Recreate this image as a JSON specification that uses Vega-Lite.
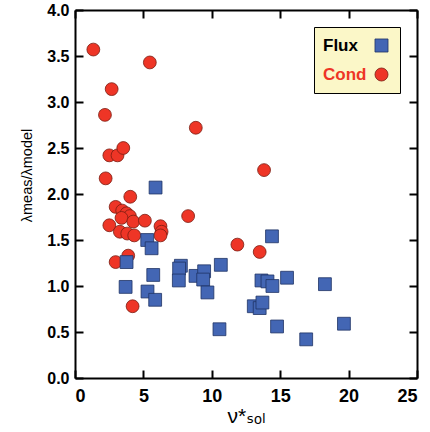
{
  "$schema": "https://vega.github.io/schema/vega-lite/v6.json",
  "width": 342,
  "height": 368,
  "autosize": "none",
  "padding": {"left": 75, "top": 10, "right": 13, "bottom": 54},
  "background": "white",
  "config": {
    "view": {"stroke": null},
    "axis": {
      "grid": false,
      "domainColor": "black",
      "domainWidth": 2,
      "tickColor": "black",
      "tickWidth": 2,
      "tickSize": -8,
      "labelFont": "Liberation Sans, Arial, sans-serif",
      "labelFontWeight": "bold",
      "labelColor": "black",
      "titleColor": "black",
      "titleFont": "Liberation Sans, DejaVu Sans, sans-serif",
      "titleFontWeight": "normal"
    }
  },
  "datasets": {
    "pts": [
      {"nu": 1.34, "ratio": 3.57, "type": "Cond"},
      {"nu": 5.47, "ratio": 3.43, "type": "Cond"},
      {"nu": 2.68, "ratio": 3.14, "type": "Cond"},
      {"nu": 2.19, "ratio": 2.86, "type": "Cond"},
      {"nu": 8.83, "ratio": 2.72, "type": "Cond"},
      {"nu": 2.51, "ratio": 2.42, "type": "Cond"},
      {"nu": 3.11, "ratio": 2.42, "type": "Cond"},
      {"nu": 3.53, "ratio": 2.50, "type": "Cond"},
      {"nu": 2.24, "ratio": 2.17, "type": "Cond"},
      {"nu": 4.04, "ratio": 1.97, "type": "Cond"},
      {"nu": 13.82, "ratio": 2.26, "type": "Cond"},
      {"nu": 2.97, "ratio": 1.86, "type": "Cond"},
      {"nu": 3.45, "ratio": 1.82, "type": "Cond"},
      {"nu": 3.77, "ratio": 1.79, "type": "Cond"},
      {"nu": 4.01, "ratio": 1.76, "type": "Cond"},
      {"nu": 3.40, "ratio": 1.74, "type": "Cond"},
      {"nu": 4.26, "ratio": 1.70, "type": "Cond"},
      {"nu": 5.11, "ratio": 1.71, "type": "Cond"},
      {"nu": 2.51, "ratio": 1.66, "type": "Cond"},
      {"nu": 3.28, "ratio": 1.59, "type": "Cond"},
      {"nu": 3.82, "ratio": 1.57, "type": "Cond"},
      {"nu": 4.33, "ratio": 1.55, "type": "Cond"},
      {"nu": 6.25, "ratio": 1.65, "type": "Cond"},
      {"nu": 6.33, "ratio": 1.59, "type": "Cond"},
      {"nu": 6.25, "ratio": 1.55, "type": "Cond"},
      {"nu": 8.27, "ratio": 1.76, "type": "Cond"},
      {"nu": 11.87, "ratio": 1.45, "type": "Cond"},
      {"nu": 3.89, "ratio": 1.33, "type": "Cond"},
      {"nu": 2.97, "ratio": 1.26, "type": "Cond"},
      {"nu": 4.21, "ratio": 0.78, "type": "Cond"},
      {"nu": 13.5, "ratio": 1.37, "type": "Cond"},
      {"nu": 5.89, "ratio": 2.07, "type": "Flux"},
      {"nu": 5.28, "ratio": 1.50, "type": "Flux"},
      {"nu": 5.60, "ratio": 1.41, "type": "Flux"},
      {"nu": 3.77, "ratio": 1.26, "type": "Flux"},
      {"nu": 5.72, "ratio": 1.12, "type": "Flux"},
      {"nu": 7.74, "ratio": 1.22, "type": "Flux"},
      {"nu": 7.61, "ratio": 1.19, "type": "Flux"},
      {"nu": 7.59, "ratio": 1.06, "type": "Flux"},
      {"nu": 8.81, "ratio": 1.11, "type": "Flux"},
      {"nu": 9.44, "ratio": 1.16, "type": "Flux"},
      {"nu": 9.37, "ratio": 1.07, "type": "Flux"},
      {"nu": 9.68, "ratio": 0.93, "type": "Flux"},
      {"nu": 10.66, "ratio": 1.23, "type": "Flux"},
      {"nu": 3.70, "ratio": 0.99, "type": "Flux"},
      {"nu": 5.30, "ratio": 0.94, "type": "Flux"},
      {"nu": 5.86, "ratio": 0.85, "type": "Flux"},
      {"nu": 10.56, "ratio": 0.53, "type": "Flux"},
      {"nu": 14.40, "ratio": 1.54, "type": "Flux"},
      {"nu": 13.07, "ratio": 0.78, "type": "Flux"},
      {"nu": 13.50, "ratio": 0.76, "type": "Flux"},
      {"nu": 13.70, "ratio": 0.82, "type": "Flux"},
      {"nu": 13.63, "ratio": 1.06, "type": "Flux"},
      {"nu": 14.07, "ratio": 1.05, "type": "Flux"},
      {"nu": 14.43, "ratio": 1.00, "type": "Flux"},
      {"nu": 15.50, "ratio": 1.09, "type": "Flux"},
      {"nu": 18.27, "ratio": 1.02, "type": "Flux"},
      {"nu": 14.77, "ratio": 0.56, "type": "Flux"},
      {"nu": 16.90, "ratio": 0.42, "type": "Flux"},
      {"nu": 19.66, "ratio": 0.59, "type": "Flux"}
    ]
  },
  "resolve": {"axis": {"x": "independent", "y": "independent"}},
  "layer": [
    {
      "mark": {"type": "rule", "color": "#27b34b", "strokeWidth": 4},
      "encoding": {
        "x": {"datum": 0, "type": "quantitative", "scale": {"domain": [0, 25], "nice": false},
              "axis": {"orient": "top", "labels": false, "title": null, "values": [0, 5, 10, 15, 20, 25]}},
        "x2": {"datum": 25},
        "y": {"datum": 1, "type": "quantitative", "scale": {"domain": [0, 4], "nice": false},
              "axis": {"orient": "right", "labels": false, "title": null, "values": [0, 0.5, 1, 1.5, 2, 2.5, 3, 3.5, 4]}}
      }
    },
    {
      "data": {"name": "pts"},
      "mark": {"type": "point", "filled": true, "opacity": 1, "strokeWidth": 0.8},
      "encoding": {
        "x": {"field": "nu", "type": "quantitative", "scale": {"domain": [0, 25], "nice": false},
              "axis": {"orient": "bottom", "values": [0, 5, 10, 15, 20, 25], "labelFontSize": 18, "labelPadding": 17,
                       "title": "ν*ₛₒₗ", "titleFontSize": 21, "titlePadding": 0}},
        "y": {"field": "ratio", "type": "quantitative", "scale": {"domain": [0, 4], "nice": false},
              "axis": {"orient": "left", "values": [0, 0.5, 1, 1.5, 2, 2.5, 3, 3.5, 4], "format": ".1f",
                       "labelFontSize": 16, "labelPadding": 14,
                       "title": "λmeas/λmodel", "titleFontSize": 14.5, "titleX": -48, "titleY": 165, "titleBaseline": "middle", "titleAngle": 270}},
        "color": {"field": "type", "type": "nominal",
                  "scale": {"domain": ["Flux", "Cond"], "range": ["#4366b4", "#ee3526"]},
                  "legend": {
                    "title": null, "orient": "none", "legendX": 239, "legendY": 17,
                    "fillColor": "#fbf7c8", "strokeColor": "black", "padding": 10,
                    "labelFont": "Liberation Sans, Arial, sans-serif",
                    "labelFontSize": 17, "labelFontWeight": "bold", "symbolSize": 170, "rowPadding": 11,
                    "symbolStrokeWidth": 0.8,
                    "symbolOffset": 49, "labelOffset": -67,
                    "labelColor": {"expr": "datum.value === 'Cond' ? '#ee3526' : 'black'"},
                    "symbolStrokeColor": {"expr": "datum.value === 'Cond' ? '#7a1d12' : '#1f3364'"}
                  }},
        "shape": {"field": "type", "type": "nominal",
                  "scale": {"domain": ["Flux", "Cond"], "range": ["square", "circle"]}},
        "stroke": {"field": "type", "type": "nominal",
                   "scale": {"domain": ["Flux", "Cond"], "range": ["#1f3364", "#7a1d12"]}, "legend": null},
        "size": {"value": 165}
      }
    }
  ]
}
